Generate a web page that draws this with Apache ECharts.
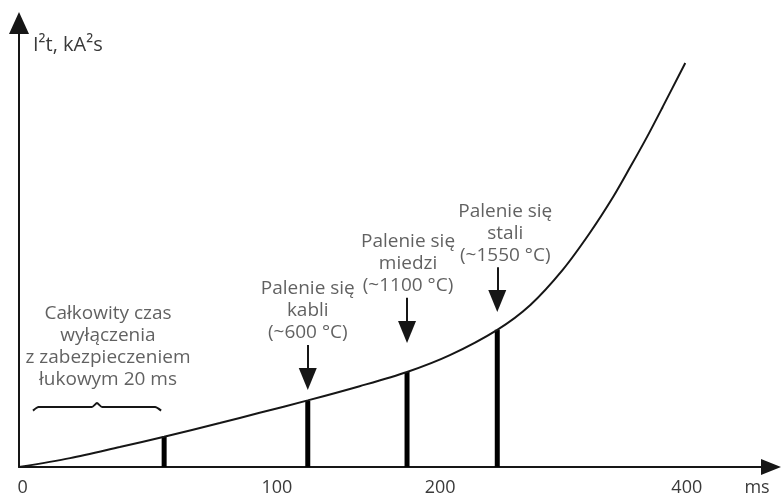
<!DOCTYPE html>
<html>
<head>
<meta charset="utf-8">
<script src="https://cdn.jsdelivr.net/npm/echarts@6/dist/echarts.min.js"></script>
<style>
html,body{margin:0;padding:0;background:#fff;}
#chart{width:781px;height:497px;}
</style>
</head>
<body>
<div id="chart"></div>
<script>
// Schematic axes: positions in relative units (0-100 along each axis)
const xTickPos = [0.5, 34.3, 56.0, 88.8];
const xTickLabels = ['0', '100', '200', '400'];
const xAxisName = 'ms';
const yAxisName = 'I²t, kA²s';

// I²t curve
const curveX = [0, 6.8, 13.4, 19.3, 26.7, 32.0, 38.4, 45.3, 51.6, 57.3, 63.6, 68.0, 72.3, 75.9, 79.0, 81.3, 83.5, 85.6, 88.6];
const curveY = [0, 2.0, 4.5, 6.8, 9.9, 12.2, 15.0, 18.2, 21.4, 25.2, 30.9, 36.5, 44.4, 52.7, 60.8, 67.6, 74.3, 81.1, 91.0];

// Vertical markers (thick bars)
const barX = [19.3, 38.4, 51.6, 63.6];
const barY = [6.8, 14.9, 21.4, 30.9];

// Arrows above markers
const arrowX = [38.4, 51.6, 63.6];
const arrowFrom = [27.5, 38.1, 45.0];
const arrowTo = [19.8, 30.4, 37.4];
const arrowTexts = [
  'Palenie się\nkabli\n(~600 °C)',
  'Palenie się\nmiedzi\n(~1100 °C)',
  'Palenie się\nstali\n(~1550 °C)'
];
const arrowTextShift = [0, 1, 8];

// Brace for the 20 ms total disconnection time
const braceX = [1.86, 2.6, 9.7, 10.37, 11.04, 18.1, 18.9];
const braceY = [12.7, 13.5, 13.5, 14.4, 13.5, 13.5, 12.7];
const braceText = 'Całkowity czas\nwyłączenia\nz zabezpieczeniem\nłukowym 20 ms';

const FONT = '"Open Sans", "Noto Sans", sans-serif';
const TEXT_COLOR = '#3a3a3a';
const LINE_COLOR = '#161616';

const chart = echarts.init(document.getElementById('chart'), null, {renderer: 'canvas'});

const annotationData = arrowX.map((x, i) => ({
  value: [x, arrowFrom[i]],
  label: {formatter: arrowTexts[i], offset: [arrowTextShift[i], 0]}
}));
annotationData.push({
  value: [braceX[3], braceY[3]],
  label: {formatter: braceText, offset: [11, 0], distance: 12, lineHeight: 22}
});

chart.setOption({
  animation: false,
  backgroundColor: '#ffffff',
  grid: {left: 19, right: 10, top: 23, bottom: 30},
  xAxis: {
    type: 'value',
    min: 0,
    max: 100,
    name: xAxisName,
    nameLocation: 'end',
    nameGap: -14,
    nameTextStyle: {fontFamily: FONT, fontSize: 18, color: TEXT_COLOR, align: 'center', verticalAlign: 'top', padding: [12, 0, 0, 0]},
    axisLine: {show: true, symbol: ['none', 'triangle'], symbolSize: [16, 20], lineStyle: {color: LINE_COLOR, width: 2}},
    axisTick: {show: false},
    splitLine: {show: false},
    axisLabel: {
      customValues: xTickPos,
      formatter: function (v) {
        const i = xTickPos.indexOf(v);
        return i >= 0 ? xTickLabels[i] : '';
      },
      margin: 12,
      fontFamily: FONT,
      fontSize: 18,
      color: TEXT_COLOR
    }
  },
  yAxis: {
    type: 'value',
    min: 0,
    max: 100,
    name: yAxisName,
    nameLocation: 'end',
    nameGap: -22,
    nameTextStyle: {fontFamily: FONT, fontSize: 20, color: TEXT_COLOR, align: 'left', verticalAlign: 'middle', padding: [0, 0, 0, 14]},
    axisLine: {show: true, symbol: ['none', 'triangle'], symbolSize: [20, 22], lineStyle: {color: LINE_COLOR, width: 2}},
    axisTick: {show: false},
    axisLabel: {show: false},
    splitLine: {show: false}
  },
  series: [
    {
      name: 'markers',
      type: 'bar',
      data: barX.map((x, i) => [x, barY[i]]),
      barWidth: 5,
      itemStyle: {color: '#000'},
      silent: true,
      z: 2,
      markLine: {
        silent: true,
        symbol: ['none', 'triangle'],
        symbolSize: [18, 22],
        label: {show: false},
        lineStyle: {color: LINE_COLOR, width: 2, type: 'solid'},
        data: arrowX.map((x, i) => [{coord: [x, arrowFrom[i]]}, {coord: [x, arrowTo[i]]}])
      }
    },
    {
      name: 'I2t',
      type: 'line',
      data: curveX.map((x, i) => [x, curveY[i]]),
      smooth: 0.3,
      showSymbol: false,
      lineStyle: {color: LINE_COLOR, width: 2},
      silent: true,
      z: 3
    },
    {
      name: 'brace',
      type: 'line',
      data: braceX.map((x, i) => [x, braceY[i]]),
      smooth: 0.2,
      showSymbol: false,
      lineStyle: {color: LINE_COLOR, width: 2},
      silent: true,
      z: 3
    },
    {
      name: 'annotations',
      type: 'scatter',
      symbolSize: 0,
      silent: true,
      data: annotationData,
      label: {
        show: true,
        position: 'top',
        distance: 1,
        align: 'center',
        fontFamily: FONT,
        fontSize: 19,
        lineHeight: 22,
        color: TEXT_COLOR
      },
      z: 4
    }
  ]
});
</script>
</body>
</html>
